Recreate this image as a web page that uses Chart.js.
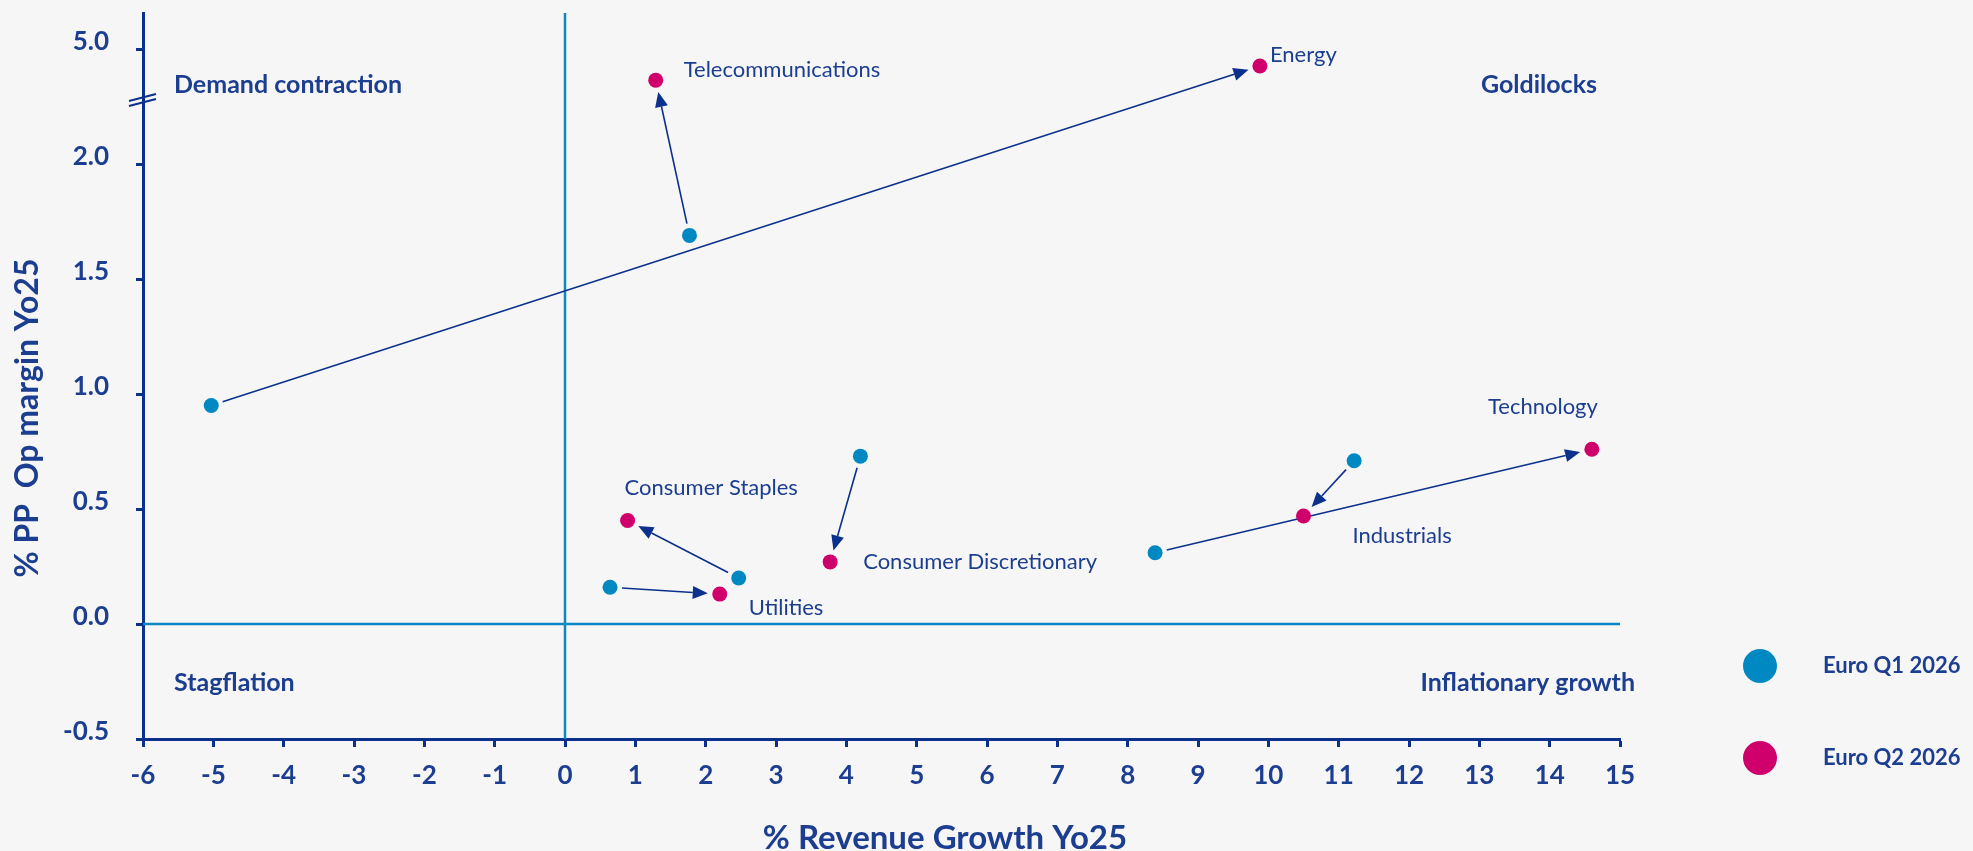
<!DOCTYPE html>
<html>
<head>
<meta charset="utf-8">
<script src="https://cdn.jsdelivr.net/npm/chart.js@4.4.0/dist/chart.umd.min.js"></script>
<style>
  html, body { margin: 0; padding: 0; background: #f6f6f6; }
  #wrap { width: 1973px; height: 851px; position: relative; overflow: hidden; }
</style>
</head>
<body>
<div id="wrap"><canvas id="chart"></canvas></div>
<script>
// --- Data ---
const sectors  = ["Energy", "Telecommunications", "Consumer Discretionary", "Consumer Staples", "Utilities", "Industrials", "Technology"];
const q1Growth = [-5.03, 1.77, 4.20, 2.47, 0.64, 11.22, 8.39];
const q1Margin = [0.95, 1.69, 0.73, 0.20, 0.16, 0.71, 0.31];
const q2Growth = [9.88, 1.29, 3.77, 0.89, 2.20, 10.50, 14.60];
const q2Margin = [4.56, 4.19, 0.27, 0.45, 0.13, 0.47, 0.76];

const xTickValues = [-6, -5, -4, -3, -2, -1, 0, 1, 2, 3, 4, 5, 6, 7, 8, 9, 10, 11, 12, 13, 14, 15];
const yTickValues = [-0.5, 0.0, 0.5, 1.0, 1.5, 2.0, 5.0];

const seriesNames = ["Euro Q1 2026", "Euro Q2 2026"];
const quadrants   = ["Demand contraction", "Goldilocks", "Stagflation", "Inflationary growth"];

// --- Styles ---
const NAVY    = "#0b318c";
const TEXT    = "#1c3e90";
const BLUE    = "#0088c2";
const PINK    = "#cf006c";
const QUAD    = "#0a88c4";
const FONT    = "Lato";

// y axis is broken above 2.0: the 2.0 -> 5.0 span is squeezed into half a step
const BREAK_AT = 2.0;
const SQUEEZE  = 6;
const toPlot = v => v <= BREAK_AT ? v : BREAK_AT + (v - BREAK_AT) / SQUEEZE;

// label offsets from the Q2 point (px), and alignment
const labelPos = {
    "Energy":                 { dx: 10,   dy: -11, align: "left" },
    "Telecommunications":     { dx: 28,   dy: -10, align: "left" },
    "Consumer Discretionary": { dx: 33,   dy: 0,   align: "left" },
    "Consumer Staples":       { dx: -3,   dy: -33, align: "left" },
    "Utilities":              { dx: 29,   dy: 14,  align: "left" },
    "Industrials":            { dx: 49,   dy: 20,  align: "left" },
    "Technology":             { dx: 6,    dy: -42, align: "right" },
};

const q1Points = sectors.map((s, i) => ({ x: q1Growth[i], y: toPlot(q1Margin[i]) }));
const q2Points = sectors.map((s, i) => ({ x: q2Growth[i], y: toPlot(q2Margin[i]) }));

// --- Overlay: quadrant lines, arrows, labels, legend ---

function arrow(ctx, x1, y1, x2, y2) {
    const ang = Math.atan2(y2 - y1, x2 - x1);
    const sx = x1 + Math.cos(ang) * 12, sy = y1 + Math.sin(ang) * 12;
    const ex = x2 - Math.cos(ang) * 12, ey = y2 - Math.sin(ang) * 12;
    const head = 15, half = 6.5;
    const bx = ex - Math.cos(ang) * head, by = ey - Math.sin(ang) * head;

    ctx.beginPath();
    ctx.moveTo(sx, sy);
    ctx.lineTo(bx, by);
    ctx.stroke();

    ctx.beginPath();
    ctx.moveTo(ex, ey);
    ctx.lineTo(bx + Math.sin(ang) * half, by - Math.cos(ang) * half);
    ctx.lineTo(bx - Math.sin(ang) * half, by + Math.cos(ang) * half);
    ctx.closePath();
    ctx.fill();
}

const overlay = {
    id: "overlay",
    beforeDatasetsDraw(chart) {
        const { ctx, chartArea: a, scales: { x, y } } = chart;
        ctx.save();

        // quadrant lines
        ctx.strokeStyle = QUAD;
        ctx.lineWidth = 2.5;
        const x0 = x.getPixelForValue(0), y0 = y.getPixelForValue(0);
        ctx.beginPath();
        ctx.moveTo(x0, a.top);  ctx.lineTo(x0, a.bottom);
        ctx.moveTo(a.left, y0); ctx.lineTo(a.right, y0);
        ctx.stroke();

        // Q1 -> Q2 arrows
        ctx.strokeStyle = NAVY;
        ctx.fillStyle = NAVY;
        ctx.lineWidth = 1.6;
        sectors.forEach((s, i) => {
            arrow(ctx,
                x.getPixelForValue(q1Points[i].x), y.getPixelForValue(q1Points[i].y),
                x.getPixelForValue(q2Points[i].x), y.getPixelForValue(q2Points[i].y));
        });
        ctx.restore();
    },
    afterDraw(chart) {
        const { ctx, chartArea: a, scales: { x, y } } = chart;
        ctx.save();
        ctx.textBaseline = "middle";

        // sector labels
        ctx.fillStyle = TEXT;
        ctx.font = `22px ${FONT}`;
        sectors.forEach((s, i) => {
            const p = labelPos[s];
            ctx.textAlign = p.align;
            ctx.fillText(s, x.getPixelForValue(q2Points[i].x) + p.dx, y.getPixelForValue(q2Points[i].y) + p.dy);
        });

        // quadrant names
        ctx.font = `bold 25px ${FONT}`;
        ctx.textAlign = "left";
        ctx.fillText(quadrants[0], a.left + 31, 85);
        ctx.fillText(quadrants[2], a.left + 31, 683);
        ctx.textAlign = "right";
        ctx.fillText(quadrants[1], a.right - 23, 85);
        ctx.fillText(quadrants[3], a.right + 15, 683);

        // axis break mark
        const ax = a.left, by = 97;
        ctx.strokeStyle = NAVY;
        ctx.lineWidth = 2;
        ctx.beginPath();
        ctx.moveTo(ax - 14, by + 4); ctx.lineTo(ax + 13, by - 3);
        ctx.moveTo(ax - 14, by + 9); ctx.lineTo(ax + 13, by + 2);
        ctx.stroke();

        // axis titles
        ctx.textBaseline = "alphabetic";
        ctx.textAlign = "center";
        ctx.font = `bold 33px ${FONT}`;
        ctx.fillText("% Revenue Growth Yo25", 945, 849);
        ctx.save();
        ctx.font = `bold 32px ${FONT}`;
        ctx.translate(38, 418);
        ctx.rotate(-Math.PI / 2);
        ctx.fillText("% PP  Op margin Yo25", 0, 0);
        ctx.restore();

        // legend
        ctx.textBaseline = "middle";
        [BLUE, PINK].forEach((c, i) => {
            const cy = 666 + i * 92;
            ctx.fillStyle = c;
            ctx.beginPath();
            ctx.arc(1760, cy, 17, 0, Math.PI * 2);
            ctx.fill();
            ctx.fillStyle = TEXT;
            ctx.font = `bold 22px ${FONT}`;
            ctx.textAlign = "left";
            ctx.fillText(seriesNames[i], 1823, cy);
        });

        ctx.restore();
    }
};

// --- Chart ---

Chart.defaults.font.family = FONT;

new Chart(document.getElementById("chart"), {
    type: "scatter",
    data: {
        datasets: [
            { label: seriesNames[0], data: q1Points, backgroundColor: BLUE, pointRadius: 7.5, pointBorderWidth: 0 },
            { label: seriesNames[1], data: q2Points, backgroundColor: PINK, pointRadius: 7.5, pointBorderWidth: 0 },
        ]
    },
    options: {
        responsive: true,
        maintainAspectRatio: false,
        animation: false,
        events: [],
        layout: { padding: { top: 13, right: 353, left: 0, bottom: 0 } },
        plugins: { legend: { display: false }, tooltip: { enabled: false } },
        scales: {
            x: {
                type: "linear",
                min: -6, max: 15,
                afterFit: s => { s.height = 112; s.paddingLeft = 0; s.paddingRight = 0; },
                afterBuildTicks: s => { s.ticks = xTickValues.map(v => ({ value: v })); },
                ticks: { color: TEXT, font: { size: 26, weight: "bold" }, padding: 13, autoSkip: false, maxRotation: 0 },
                grid: { drawOnChartArea: false, color: NAVY, tickLength: 8, tickWidth: 3 },
                border: { color: NAVY, width: 3 }
            },
            y: {
                type: "linear",
                min: -0.5, max: 2.657,
                afterFit: s => { s.width = 143; s.paddingTop = 0; s.paddingBottom = 0; },
                afterBuildTicks: s => { s.ticks = yTickValues.map(v => ({ value: toPlot(v) })); },
                ticks: {
                    color: TEXT, font: { size: 26, weight: "bold" }, padding: 27, autoSkip: false,
                    labelOffset: -7,
                    callback: (v, i) => yTickValues[i].toFixed(1)
                },
                grid: { drawOnChartArea: false, color: NAVY, tickLength: 7, tickWidth: 3 },
                border: { color: NAVY, width: 3 }
            }
        }
    },
    plugins: [overlay]
});
</script>
</body>
</html>
